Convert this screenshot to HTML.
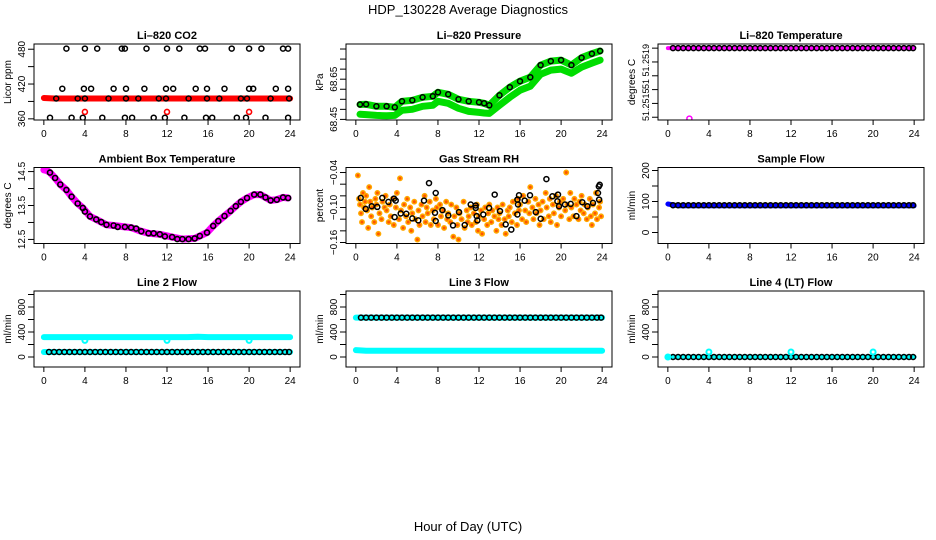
<!DOCTYPE html>
<html><head><meta charset="utf-8"><style>
html,body{margin:0;padding:0;background:#fff;}
svg{display:block;font-family:"Liberation Sans",Arial,sans-serif;}
</style></head><body>
<svg id="chart" width="936" height="540" viewBox="0 0 936 540">
<rect width="936" height="540" fill="#fff"/>
<text x="468" y="14" text-anchor="middle" font-size="13">HDP_130228  Average Diagnostics</text>
<text x="468" y="531" text-anchor="middle" font-size="13">Hour of Day (UTC)</text>
</svg>
<script>
// ---------- data ----------
const xTicks = [0,4,8,12,16,20,24];
const hrsLine = [0,1,2,3,4,5,6,7,8,9,10,11,12,13,14,15,16,17,18,19,20,21,22,23,24];
const hrsBlack = [0.5,1,1.5,2,2.5,3,3.5,4,4.5,5,5.5,6,6.5,7,7.5,8,8.5,9,9.5,10,10.5,11,11.5,12,12.5,13,13.5,14,14.5,15,15.5,16,16.5,17,17.5,18,18.5,19,19.5,20,20.5,21,21.5,22,22.5,23,23.5,23.9];

// CO2
const co2BlackX = [2.2,4,5.2,7.6,7.9,10,12,13.2,15.2,15.7,18.3,20,21.2,23.3,23.8,
 1.8,3.9,4.6,6.8,8,9.8,11.9,12.6,14.8,15.9,17.6,20,20.4,22.6,23.8,
 1.2,3.3,4,6.3,8,9.2,11.2,11.9,14.1,15.9,17.1,19.2,19.8,22.1,23.9,
 0.6,2.7,3.8,5.7,7.9,8.6,10.7,11.8,13.7,15.8,16.4,18.8,19.7,21.6,23.8];
const co2BlackY = [481,481,481,481,481,481,481,481,481,481,481,481,481,481,481,
 412,412,412,412,412,412,412,412,412,412,412,412,412,412,412,
 395,395,395,395,395,395,395,395,395,395,395,395,395,395,395,
 362,362,362,362,362,362,362,362,362,362,362,362,362,362,362];
const co2Red = [396,395,395,395,395,395,395,395,395,395,395,395,395,395,395,395,395,395,395,395,395,395,395,395,395];
const co2RedPtX = [4,12,20];
const co2RedPtY = [372,372,372];

// Pressure
const presX = [0.4,1,2,3,3.8,4.5,5.5,6.5,7.5,8,9,10,11,12,12.5,13,14,15,16,17,18,19,20,21,22,23,23.8];
const presBlack = [68.524,68.525,68.515,68.515,68.51,68.54,68.545,68.56,68.565,68.585,68.575,68.55,68.54,68.535,68.53,68.52,68.57,68.61,68.64,68.66,68.72,68.74,68.745,68.72,68.757,68.777,68.79];
const presLow = [68.476,68.474,68.47,68.468,68.47,68.495,68.5,68.515,68.52,68.54,68.53,68.505,68.49,68.485,68.482,68.48,68.52,68.56,68.595,68.615,68.675,68.695,68.7,68.68,68.71,68.73,68.745];

// Li-820 temperature
const tempLine = [51.2519,51.2519,51.2519,51.2519,51.2519,51.2519,51.2519,51.2519,51.2519,51.2519,51.2519,51.2519,51.2519,51.2519,51.2519,51.2519,51.2519,51.2519,51.2519,51.2519,51.2519,51.2519,51.2519,51.2519,51.2519];
const tempBlack = [51.2519,51.2519,51.2519,51.2519,51.2519,51.2519,51.2519,51.2519,51.2519,51.2519,51.2519,51.2519,51.2519,51.2519,51.2519,51.2519,51.2519,51.2519,51.2519,51.2519,51.2519,51.2519,51.2519,51.2519,51.2519,51.2519,51.2519,51.2519,51.2519,51.2519,51.2519,51.2519,51.2519,51.2519,51.2519,51.2519,51.2519,51.2519,51.2519,51.2519,51.2519,51.2519,51.2519,51.2519,51.2519,51.2519,51.2519,51.2519];
const tempOutX = [2.1];
const tempOutY = [51.25139];

// Ambient box temperature
const ambX = [0.6,1.1,1.6,2.2,2.7,3.3,3.8,4.0,4.5,5.1,5.6,6.1,6.8,7.2,7.9,8.5,9.0,9.5,10.2,10.7,11.3,11.8,12.5,13.0,13.5,14.1,14.7,15.2,15.9,16.5,17.0,17.6,18.2,18.7,19.2,19.8,20.5,21.1,21.6,22.1,22.7,23.3,23.8];
const ambY = [14.47,14.31,14.12,13.96,13.76,13.56,13.43,13.32,13.18,13.09,13.01,12.93,12.91,12.87,12.87,12.85,12.82,12.74,12.68,12.68,12.65,12.59,12.57,12.51,12.51,12.51,12.53,12.60,12.70,12.90,13.04,13.19,13.34,13.48,13.61,13.72,13.82,13.82,13.74,13.65,13.67,13.74,13.72];
const ambLineX = [0,0.3,0.6,1.1,1.6,2.2,2.7,3.3,3.8,4.5,5.1,5.6,6.1,6.8,7.9,8.5,9.5,10.2,11.3,12.5,13.5,14.7,15.2,15.9,16.5,17.0,17.6,18.2,18.7,19.2,19.8,20.5,21.1,21.6,22.1,22.7,23.3,23.8];
const ambLineY = [14.55,14.53,14.47,14.31,14.12,13.96,13.76,13.56,13.43,13.18,13.09,13.01,12.93,12.91,12.87,12.85,12.74,12.68,12.65,12.57,12.51,12.53,12.60,12.70,12.90,13.04,13.19,13.34,13.48,13.61,13.72,13.82,13.82,13.74,13.65,13.67,13.74,13.72];

// Gas stream RH
const rhOrangeX = [0.2,0.3,0.4,0.5,0.6,0.7,0.8,0.9,1.0,1.1,1.2,1.3,1.4,1.5,1.6,1.8,1.9,2.0,2.1,2.2,2.3,2.5,2.6,2.8,2.9,3.0,3.2,3.3,3.4,3.6,3.7,3.9,4.0,4.2,4.3,4.4,4.6,4.7,4.9,5.0,5.1,5.3,5.4,5.5,5.7,5.8,6.0,6.1,6.2,6.4,6.5,6.7,6.8,6.9,7.0,7.2,7.3,7.5,7.6,7.8,7.9,8.0,8.2,8.3,8.5,8.6,8.8,8.9,9.0,9.2,9.3,9.5,9.6,9.8,9.9,10.0,10.1,10.3,10.5,10.6,10.8,10.9,11.0,11.2,11.3,11.5,11.7,11.8,11.9,12.0,12.2,12.3,12.5,12.6,12.8,12.9,13.0,13.2,13.3,13.5,13.7,13.8,13.9,14.0,14.2,14.3,14.5,14.6,14.8,14.9,15.0,15.2,15.3,15.5,15.7,15.8,15.9,16.0,16.2,16.3,16.5,16.6,16.8,16.9,17.0,17.2,17.3,17.5,17.6,17.8,17.9,18.0,18.2,18.3,18.5,18.6,18.8,18.9,19.0,19.2,19.3,19.5,19.6,19.8,19.9,20.0,20.2,20.4,20.5,20.6,20.8,20.9,21.0,21.2,21.3,21.5,21.7,21.8,21.9,22.0,22.2,22.3,22.5,22.6,22.8,22.9,23.0,23.1,23.3,23.4,23.5,23.7,23.8,23.9];
const rhOrangeY = [-0.045,-0.085,-0.095,-0.11,-0.125,-0.075,-0.1,-0.09,-0.08,-0.105,-0.135,-0.065,-0.09,-0.115,-0.1,-0.125,-0.085,-0.095,-0.075,-0.145,-0.11,-0.12,-0.09,-0.1,-0.08,-0.105,-0.125,-0.095,-0.115,-0.085,-0.13,-0.1,-0.075,-0.12,-0.05,-0.105,-0.135,-0.095,-0.115,-0.085,-0.125,-0.1,-0.14,-0.11,-0.09,-0.12,-0.155,-0.105,-0.13,-0.095,-0.115,-0.08,-0.125,-0.1,-0.11,-0.09,-0.13,-0.105,-0.12,-0.085,-0.1,-0.13,-0.095,-0.115,-0.105,-0.135,-0.09,-0.12,-0.11,-0.125,-0.095,-0.15,-0.115,-0.1,-0.13,-0.155,-0.11,-0.12,-0.09,-0.135,-0.105,-0.125,-0.115,-0.1,-0.13,-0.11,-0.125,-0.095,-0.14,-0.115,-0.105,-0.145,-0.12,-0.1,-0.13,-0.11,-0.095,-0.125,-0.105,-0.115,-0.14,-0.1,-0.12,-0.11,-0.13,-0.095,-0.12,-0.145,-0.105,-0.115,-0.1,-0.125,-0.09,-0.11,-0.13,-0.085,-0.105,-0.095,-0.12,-0.08,-0.105,-0.125,-0.09,-0.11,-0.065,-0.1,-0.12,-0.085,-0.11,-0.095,-0.13,-0.105,-0.09,-0.12,-0.075,-0.1,-0.115,-0.085,-0.125,-0.095,-0.11,-0.08,-0.13,-0.1,-0.09,-0.115,-0.085,-0.105,-0.04,-0.095,-0.12,-0.075,-0.1,-0.115,-0.085,-0.095,-0.12,-0.09,-0.105,-0.08,-0.11,-0.095,-0.12,-0.1,-0.085,-0.115,-0.13,-0.095,-0.11,-0.075,-0.12,-0.1,-0.09,-0.115];
const rhBlackX = [0.47,0.96,1.54,2.09,2.58,3.17,3.72,3.78,3.88,4.37,4.92,5.50,6.09,6.64,7.13,7.71,7.78,7.78,8.43,9.01,9.47,10.05,10.61,11.19,11.68,11.68,11.78,11.84,12.42,12.98,13.53,14.05,14.60,15.15,15.74,15.74,15.80,15.90,16.45,16.97,17.53,18.01,18.57,19.15,19.64,19.70,19.80,20.38,20.94,21.49,22.07,22.56,23.11,23.60,23.67,23.70,23.76];
const rhBlackY = [-0.0836,-0.1023,-0.0977,-0.0989,-0.0836,-0.0904,-0.0847,-0.1164,-0.0881,-0.1102,-0.1108,-0.1187,-0.1221,-0.0881,-0.0581,-0.1091,-0.0751,-0.1232,-0.1045,-0.1136,-0.1306,-0.1079,-0.1300,-0.0949,-0.0966,-0.1006,-0.1147,-0.1221,-0.1119,-0.1006,-0.0779,-0.1062,-0.1289,-0.1379,-0.1119,-0.0864,-0.0949,-0.0791,-0.0881,-0.0791,-0.1079,-0.1192,-0.0513,-0.0808,-0.0892,-0.0779,-0.0977,-0.0949,-0.0938,-0.1147,-0.0909,-0.0977,-0.0921,-0.0751,-0.0638,-0.0864,-0.0610];

// Sample flow
const sampleBlue = [92,86,86,86,86,86,86,86,86,86,86,86,86,86,86,86,86,86,86,86,86,86,86,86,86];
const sampleBlack = [88,88,88,88,88,88,88,88,88,88,88,88,88,88,88,88,88,88,88,88,88,88,88,88,88,88,88,88,88,88,88,88,88,88,88,88,88,88,88,88,88,88,88,88,88,88,88,88];

// Line 2 flow
const l2CyanHigh = [318,318,318,318,318,318,318,318,318,318,318,318,318,318,318,325,318,318,318,318,318,318,318,318,318];
const l2CyanLow = [80,80,80,80,80,80,80,80,80,80,80,80,80,80,80,80,80,80,80,80,80,80,80,80,80];
const l2Black = [80,80,80,80,80,80,80,80,80,80,80,80,80,80,80,80,80,80,80,80,80,80,80,80,80,80,80,80,80,80,80,80,80,80,80,80,80,80,80,80,80,80,80,80,80,80,80,80];
const l2DipX = [4,12,20];
const l2DipY = [265,265,265];

// Line 3 flow
const l3CyanHigh = [630,630,630,630,630,630,630,630,630,630,630,630,630,630,630,630,630,630,630,630,630,630,630,630,630];
const l3CyanLow = [110,100,100,100,100,100,100,100,100,100,100,100,100,100,100,100,100,100,100,100,100,100,100,100,100];
const l3Black = [630,630,630,630,630,630,630,630,630,630,630,630,630,630,630,630,630,630,630,630,630,630,630,630,630,630,630,630,630,630,630,630,630,630,630,630,630,630,630,630,630,630,630,630,630,630,630,630];

// Line 4 flow
const l4Cyan = [0,0,0,0,0,0,0,0,0,0,0,0,0,0,0,0,0,0,0,0,0,0,0,0,0];
const l4Black = [0,0,0,0,0,0,0,0,0,0,0,0,0,0,0,0,0,0,0,0,0,0,0,0,0,0,0,0,0,0,0,0,0,0,0,0,0,0,0,0,0,0,0,0,0,0,0,0];
const l4PtX = [0,4,12,20];
const l4PtY = [0,80,80,80];

// ---------- drawing ----------
const NS = 'http://www.w3.org/2000/svg';
const svg = document.getElementById('chart');
function mk(tag, attrs, parent){
  const e = document.createElementNS(NS, tag);
  for (const k in attrs) e.setAttribute(k, attrs[k]);
  (parent||svg).appendChild(e);
  return e;
}
const PW = 266, PH = 76;
function makePanel(name, col, row, title, ylab, ylim, yticks, ylabels, labelSpec){
  const L = 34 + 312*col, T = 44 + 123.5*row;
  const g = mk('g', {});
  
  
  const sx = h => L + (h + 0.96) / 25.92 * PW;
  const sy = v => T + PH - (v - ylim[0]) / (ylim[1] - ylim[0]) * PH;
  const t = mk('text', {x: L + PW/2, y: T - 5, 'text-anchor':'middle', 'font-size':'11', 'font-weight':'bold'}, g);
  t.textContent = title;
  
  
  const yl = mk('text', {x: 0, y: 0, 'text-anchor':'middle', 'font-size':'10', transform:`translate(${L-23},${T+PH/2}) rotate(-90)`}, g);
  yl.textContent = ylab;
  
  
  const xa = mk('g', {}, g);
  
  
  mk('line', {x1: sx(0), x2: sx(24), y1: T+PH, y2: T+PH, stroke:'#000', 'stroke-width':1}, xa);
  xTicks.forEach(v => {
    mk('line', {x1: sx(v), x2: sx(v), y1: T+PH, y2: T+PH+5, stroke:'#000', 'stroke-width':1}, xa);
    const tl = mk('text', {x: sx(v), y: T+PH+17, 'text-anchor':'middle', 'font-size':'10'}, xa);
    tl.textContent = String(v);
  });
  const ya = mk('g', {}, g);
  
  
  yticks.forEach((v, i) => {
    mk('line', {x1: L-6, x2: L, y1: sy(v), y2: sy(v), stroke:'#000', 'stroke-width':1}, ya);
    if (ylabels[i]) {
      const tl = mk('text', {x: 0, y: 0, 'text-anchor':'middle', 'font-size':'10', transform:`translate(${L-9},${sy(v)}) rotate(-90)`}, ya);
      tl.textContent = ylabels[i];
    }
  });
  if (labelSpec) {
    labelSpec.forEach(s => {
      const tl = mk('text', {x: 0, y: 0, 'text-anchor': s.anchor, 'font-size':'9', transform:`translate(${L-9},${s.y}) rotate(-90)`}, ya);
      tl.textContent = s.text;
    });
  }
  const marks = mk('g', {}, g);
  
  
  const clipId = 'clip-' + name;
  const cp = mk('clipPath', {id: clipId}, g);
  mk('rect', {x: L, y: T, width: PW, height: PH}, cp);
  marks.setAttribute('clip-path', `url(#${clipId})`);
  const box = mk('rect', {x: L, y: T, width: PW, height: PH, fill:'none', stroke:'#000', 'stroke-width':1}, g);
  
  
  return {sx, sy, marks};
}
function line(p, xs, ys, color, w, name){
  const pts = xs.map((x, i) => p.sx(x).toFixed(1) + ',' + p.sy(ys[i]).toFixed(1)).join(' ');
  const pl = mk('polyline', {points: pts, fill:'none', stroke: color, 'stroke-width': w, 'stroke-linejoin':'round', 'stroke-linecap':'round'}, p.marks);
  
  
}
function pts(p, xs, ys, color, r, sw, name, fill){
  const g = mk('g', {}, p.marks);
  
  
  xs.forEach((x, i) => {
    mk('circle', {cx: p.sx(x).toFixed(1), cy: p.sy(ys[i]).toFixed(1), r: r, fill: fill || 'none', stroke: color, 'stroke-width': sw}, g);
  });
}

let p = makePanel('co2', 0, 0, 'Li\u2013820 CO2', 'Licor ppm', [358,489], [360,390,420,450,480], ['360','','420','','480']);
line(p, hrsLine, co2Red, '#ff0000', 6, 'co2-red-series');
pts(p, co2RedPtX, co2RedPtY, '#ff0000', 2.5, 1.6, 'co2-red-points');
pts(p, co2BlackX, co2BlackY, '#000', 2.5, 1.5, 'co2-black-points');

p = makePanel('pressure', 1, 0, 'Li\u2013820 Pressure', 'kPa', [68.447,68.825], [68.45,68.5,68.55,68.6,68.65,68.7,68.75,68.8], ['68.45','','','','68.65','','','']);
line(p, presX, presLow, '#00dd00', 7, 'pressure-green-lower');
line(p, presX, presBlack, '#00dd00', 7, 'pressure-green-upper');
pts(p, presX, presBlack, '#000', 2.5, 1.5, 'pressure-black-points');

p = makePanel('li820-temp', 2, 0, 'Li\u2013820 Temperature', 'degrees C', [51.25138,51.25193], [51.2514,51.2515,51.2516,51.2517,51.2518,51.2519], ['','','','','',''],
  [{text:'51.2519', anchor:'end', y:44},{text:'51', anchor:'middle', y:84},{text:'51.2515', anchor:'start', y:121}]);
line(p, hrsLine, tempLine, '#ff00ff', 4, 'temp-magenta-series');
pts(p, hrsBlack, tempBlack, '#000', 2.5, 1.5, 'temp-black-points');
pts(p, tempOutX, tempOutY, '#ff00ff', 2.5, 1.5, 'temp-outlier');

p = makePanel('ambient-temp', 0, 1, 'Ambient Box Temperature', 'degrees C', [12.38,14.62], [12.5,13,13.5,14,14.5], ['12.5','','13.5','','14.5']);
line(p, ambLineX, ambLineY, '#ff00ff', 7, 'ambient-magenta-series');
pts(p, ambX, ambY, '#000', 2.5, 1.6, 'ambient-black-points');

p = makePanel('gas-rh', 1, 1, 'Gas Stream RH', 'percent', [-0.1617,-0.0314], [-0.16,-0.14,-0.12,-0.10,-0.08,-0.06,-0.04], ['\u22120.16','','','\u22120.10','','','\u22120.04']);
pts(p, rhOrangeX, rhOrangeY, '#ffa800', 2.2, 1.5, 'rh-orange-points', '#ff5500');
pts(p, rhBlackX, rhBlackY, '#000', 2.5, 1.5, 'rh-black-points');

p = makePanel('sample-flow', 2, 1, 'Sample Flow', 'ml/min', [-35.5,209.7], [0,50,100,150,200], ['0','','100','','200']);
line(p, hrsLine, sampleBlue, '#0000ff', 5, 'sample-blue-series');
pts(p, hrsBlack, sampleBlack, '#000', 2.5, 1.5, 'sample-black-points');

p = makePanel('line2-flow', 0, 2, 'Line 2 Flow', 'ml/min', [-160,1056], [0,200,400,600,800,1000], ['0','','400','','800','']);
line(p, hrsLine, l2CyanHigh, '#00ffff', 6, 'line2-cyan-high');
pts(p, l2DipX, l2DipY, '#00ffff', 2.5, 2, 'line2-cyan-dips');
line(p, hrsLine, l2CyanLow, '#00ffff', 6, 'line2-cyan-low');
pts(p, hrsBlack, l2Black, '#000', 2.5, 1.5, 'line2-black-points');

p = makePanel('line3-flow', 1, 2, 'Line 3 Flow', 'ml/min', [-160,1056], [0,200,400,600,800,1000], ['0','','400','','800','']);
line(p, hrsLine, l3CyanHigh, '#00ffff', 6, 'line3-cyan-high');
line(p, hrsLine, l3CyanLow, '#00ffff', 6, 'line3-cyan-low');
pts(p, hrsBlack, l3Black, '#000', 2.5, 1.5, 'line3-black-points');

p = makePanel('line4-flow', 2, 2, 'Line 4 (LT) Flow', 'ml/min', [-160,1056], [0,200,400,600,800,1000], ['0','','400','','800','']);
line(p, hrsLine, l4Cyan, '#00ffff', 5, 'line4-cyan-series');
pts(p, hrsBlack, l4Black, '#000', 2.5, 1.5, 'line4-black-points');
pts(p, l4PtX, l4PtY, '#00ffff', 2.5, 2, 'line4-cyan-points');
</script>
</body></html>
